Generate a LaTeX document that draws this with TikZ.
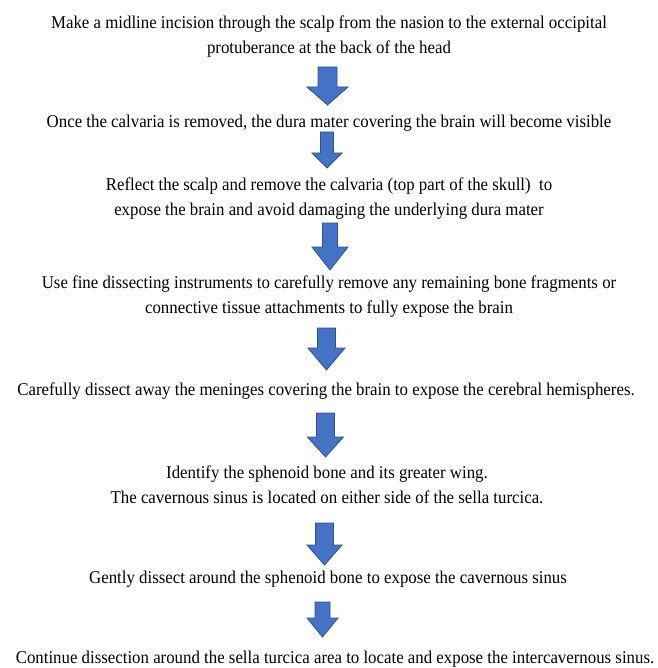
\documentclass[tikz,border=0pt]{standalone}
\usepackage{fontspec}
\setmainfont{Liberation Serif}[FakeStretch=0.935]
\definecolor{arrowfill}{RGB}{68,114,196}
\definecolor{arrowline}{RGB}{47,82,143}
\tikzset{
  stepnode/.style={align=center, inner sep=0pt, font=\fontsize{18}{25}\selectfont, text=black},
  blockarrow/.style={fill=arrowfill, draw=arrowline, line width=0.8pt, line join=miter}
}
% #1 centre x, #2 top, #3 shoulder, #4 tip, #5 shaft half width, #6 head half width
\newcommand{\blockarr}[6]{%
  \draw[blockarrow] (#1-#5,#2) -- (#1+#5,#2) -- (#1+#5,#3) -- (#1+#6,#3) -- (#1,#4)
    -- (#1-#6,#3) -- (#1-#5,#3) -- cycle;}
\begin{document}
\begin{tikzpicture}[x=1pt,y=-1pt]
\useasboundingbox (0,0) rectangle (657,668);
\node[stepnode] (t1) at (329,37) {Make a midline incision through the scalp from the nasion to the external occipital\\protuberance at the back of the head};
\node[stepnode] (t2) at (329,123.5) {Once the calvaria is removed, the dura mater covering the brain will become visible};
\node[stepnode] (t3) at (329,198.5) {Reflect the scalp and remove the calvaria (top part of the skull)\ \ to\\expose the brain and avoid damaging the underlying dura mater};
\node[stepnode] (t4) at (329,296.5) {Use fine dissecting instruments to carefully remove any remaining bone fragments or\\connective tissue attachments to fully expose the brain};
\node[stepnode] (t5) at (326,391.5) {Carefully dissect away the meninges covering the brain to expose the cerebral hemispheres.};
\node[stepnode] (t6) at (327,484.5) {Identify the sphenoid bone and its greater wing.\\The cavernous sinus is located on either side of the sella turcica.};
\node[stepnode] (t7) at (328,579.5) {Gently dissect around the sphenoid bone to expose the cavernous sinus};
\node[stepnode] (t8) at (335,659) {Continue dissection around the sella turcica area to locate and expose the intercavernous sinus.};
\blockarr{327.5}{67}{87}{105}{9.5}{20.5}
\blockarr{327}{132}{153}{168}{6.5}{15}
\blockarr{330}{223}{247}{270}{7.5}{18}
\blockarr{326.5}{328}{348}{370}{9}{18.5}
\blockarr{325.5}{413}{437}{457}{9}{18}
\blockarr{324.5}{523}{545}{565}{9}{17.5}
\blockarr{322.5}{602}{618}{637}{7.5}{15.5}
\end{tikzpicture}
\end{document}
